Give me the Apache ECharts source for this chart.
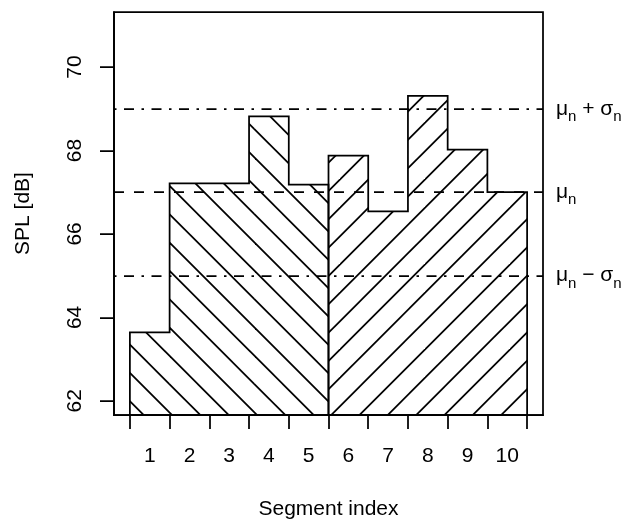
<!DOCTYPE html>
<html>
<head>
<meta charset="utf-8">
<script src="https://cdn.jsdelivr.net/npm/echarts@6/dist/echarts.min.js"></script>
<style>
  html, body { margin: 0; padding: 0; background: #fff; }
  #chart { width: 626px; height: 520px; }
</style>
</head>
<body>
<div id="chart"></div>
<script>
// Segment labels and the level of each segment (dB)
const segments = [1, 2, 3, 4, 5, 6, 7, 8, 9, 10];
const spl = [63.64, 67.21, 67.21, 68.82, 67.18, 67.88, 66.54, 69.31, 68.02, 67.00];

// Two hatched blocks: segments 1-5 and 6-10
const blockStart = [0, 5];
const blockEnd = [5, 10];
const blockHatch = ['back', 'fwd'];

// Y tick values
const yTicks = [62, 64, 66, 68, 70];

// Reference levels: mean +/- one standard deviation
const refLevels = [69, 67, 65];
const refLabels = ['{m|μ}{s|n}{m| + σ}{s|n}', '{m|μ}{s|n}', '{m|μ}{s|n}{m| − σ}{s|n}'];
const refStyles = ['dotdash', 'dashed', 'dotdash'];

const FONT = '"Liberation Sans", Arial, Helvetica, sans-serif';
const LW = 1.75;
const DASHES = {
  dotdash: [2.5, 7.5, 10, 7.5],
  dashed: [10, 10]
};

// Diagonal hatch tile; period of the lines is 85/3 px
function hatchTile(kind, phase) {
  const size = 85, period = size / 3;
  const c = document.createElement('canvas');
  c.width = size; c.height = size;
  const ctx = c.getContext('2d');
  ctx.strokeStyle = '#000';
  ctx.lineWidth = LW;
  for (let k = -8; k <= 8; k++) {
    const off = phase + k * period;
    ctx.beginPath();
    if (kind === 'back') {          // x - y = off
      ctx.moveTo(off - 30, -30);
      ctx.lineTo(off + size + 30, size + 30);
    } else {                        // x + y = off
      ctx.moveTo(off + 30, -30);
      ctx.lineTo(off - size - 30, size + 30);
    }
    ctx.stroke();
  }
  return c;
}
const hatchFill = {
  back: { image: hatchTile('back', 12), repeat: 'repeat' },
  fwd: { image: hatchTile('fwd', 9.5), repeat: 'repeat' }
};

const chart = echarts.init(document.getElementById('chart'), null, { renderer: 'canvas' });

const blockData = blockStart.map((s, i) => [s, blockEnd[i], i]);

chart.setOption({
  animation: false,
  backgroundColor: '#fff',
  textStyle: { fontFamily: FONT, color: '#000' },
  grid: {
    left: 114, top: 12, width: 429, height: 403,
    containLabel: false,
    outerBoundsMode: 'none',
    show: true, borderColor: '#000', borderWidth: LW, backgroundColor: 'transparent'
  },
  xAxis: {
    type: 'value',
    min: -0.4, max: 10.4,
    name: 'Segment index',
    nameLocation: 'middle',
    nameGap: 84,
    nameTextStyle: { fontSize: 21, fontFamily: FONT, color: '#000' },
    axisLine: { show: true, onZero: false, lineStyle: { color: '#000', width: LW } },
    splitLine: { show: false },
    axisTick: {
      show: true, length: 14,
      customValues: segments.map((s, i) => i).concat([segments.length]),
      lineStyle: { color: '#000', width: LW }
    },
    axisLabel: {
      show: true, margin: 31, fontSize: 21, fontFamily: FONT, color: '#000',
      customValues: segments.map((s, i) => i + 0.5),
      formatter: v => String(segments[Math.floor(v)])
    }
  },
  yAxis: {
    type: 'value',
    min: 61.66, max: 71.32,
    name: 'SPL [dB]',
    nameLocation: 'middle',
    nameGap: 80,
    nameTextStyle: { fontSize: 21, fontFamily: FONT, color: '#000' },
    axisLine: { show: true, onZero: false, lineStyle: { color: '#000', width: LW } },
    splitLine: { show: false },
    axisTick: {
      show: true, length: 14,
      customValues: yTicks,
      lineStyle: { color: '#000', width: LW }
    },
    axisLabel: {
      show: true, margin: 28, rotate: 90, fontSize: 21, fontFamily: FONT, color: '#000',
      customValues: yTicks,
      formatter: v => String(v)
    }
  },
  series: [{
    type: 'custom',
    clip: true,
    data: blockData,
    encode: { x: [0, 1] },
    renderItem: function (params, api) {
      const start = api.value(0), end = api.value(1), idx = api.value(2);
      const cs = params.coordSys;
      const bottom = cs.y + cs.height;
      const pts = [];
      pts.push([api.coord([start, spl[start]])[0], bottom]);
      for (let i = start; i < end; i++) {
        pts.push(api.coord([i, spl[i]]));
        pts.push(api.coord([i + 1, spl[i]]));
      }
      pts.push([api.coord([end, spl[end - 1]])[0], bottom]);
      return {
        type: 'polygon',
        shape: { points: pts },
        style: {
          fill: hatchFill[blockHatch[idx]],
          stroke: '#000',
          lineWidth: LW,
          lineJoin: 'miter'
        }
      };
    },
    markLine: {
      silent: true,
      symbol: ['none', 'none'],
      animation: false,
      data: refLevels.map((lv, i) => ({
        yAxis: lv,
        lineStyle: { color: '#000', width: LW, type: DASHES[refStyles[i]] },
        label: {
          show: true,
          position: 'end',
          distance: 13,
          formatter: refLabels[i],
          rich: {
            m: { fontSize: 21, fontFamily: FONT, color: '#000', lineHeight: 21, verticalAlign: 'top' },
            s: { fontSize: 15, fontFamily: FONT, color: '#000', lineHeight: 15, verticalAlign: 'top', padding: [11, 0, 0, 0] }
          }
        }
      }))
    }
  }]
});
</script>
</body>
</html>
